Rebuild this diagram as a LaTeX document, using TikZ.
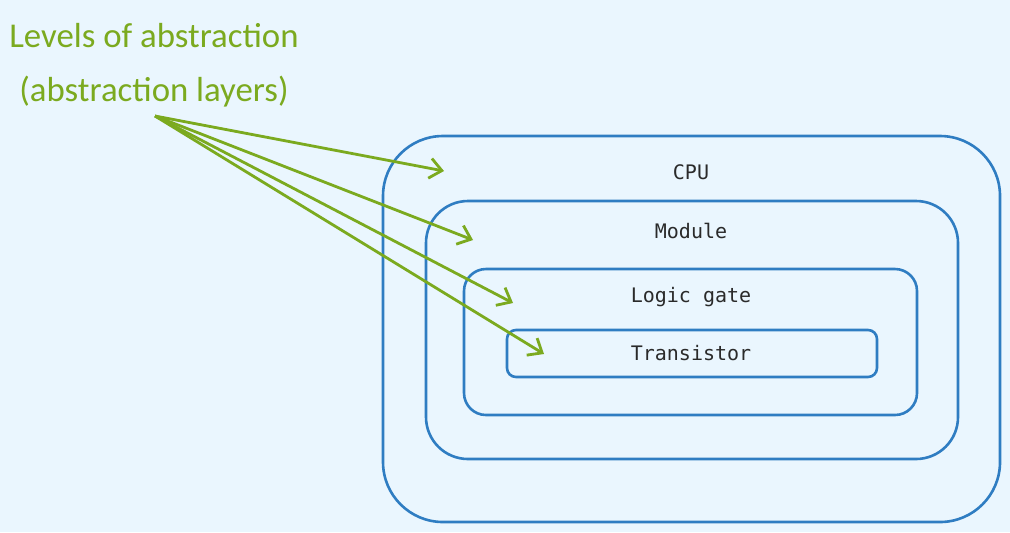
\documentclass[tikz,border=0pt]{standalone}
\usepackage{fontspec}
\setmainfont{Carlito}
\newfontfamily\boxfont{DejaVu Sans Mono}
\definecolor{bg}{HTML}{EAF6FE}
\definecolor{frame}{HTML}{2F7DC2}
\definecolor{accent}{HTML}{7BAA1F}
\definecolor{ink}{HTML}{2A2A2A}
\usetikzlibrary{arrows.meta}

\begin{document}
\begin{tikzpicture}[x=0.5pt, y=-0.5pt,
    layer/.style={draw=frame, fill=bg, line width=1.3pt, inner sep=0pt},
    tag/.style={font=\boxfont\fontsize{10}{12}\selectfont, text=ink, anchor=base},
    title/.style={font=\fontsize{17.4}{21}\selectfont, text=accent, anchor=base},
    pointer/.style={-{Straight Barb[length=6pt, width=10pt]}, line width=1.4pt, color=accent}]
                    \fill[bg] (0,0) rectangle (1010,532);
                    \useasboundingbox (0,0) rectangle (1010,532);

                    \node[layer, rounded corners=30pt, minimum width=308.5pt, minimum height=193pt] (cpu) at (691.5,329) {};
                    \node[layer, rounded corners=21pt, minimum width=266pt, minimum height=129pt] (module) at (692,330) {};
                    \node[layer, rounded corners=11pt, minimum width=226.5pt, minimum height=73pt] (gate) at (690.5,342) {};
                    \node[layer, rounded corners=4.5pt, minimum width=185pt, minimum height=23.5pt] (trans) at (692,353.5) {};

                    \node[tag] (cpulbl) at (691,179) {CPU};
                    \node[tag] (modlbl) at (691,238) {Module};
                    \node[tag] (gatelbl) at (691,302) {Logic gate};
                    \node[tag] (translbl) at (691,360) {Transistor};

                    \node[title] (title1) at (154,47) {Levels of abstraction};
                    \node[title] (title2) at (154,101) {(abstraction layers)};

                    \coordinate (src) at (155,116);
                    \coordinate (cpuend) at (444,171);
                    \coordinate (modend) at (473,240);
                    \coordinate (gateend) at (513,303);
                    \coordinate (transend) at (544,354);

                    \draw[pointer] (src) -- (cpuend);
                    \draw[pointer] (src) -- (modend);
                    \draw[pointer] (src) -- (gateend);
                    \draw[pointer] (src) -- (transend);
                \end{tikzpicture}
\end{document}
